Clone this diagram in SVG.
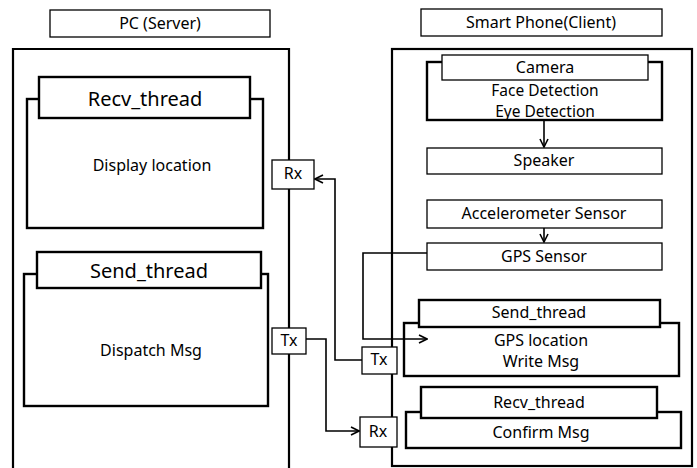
<svg xmlns="http://www.w3.org/2000/svg" width="697" height="468" viewBox="0 0 697 468">
<defs>
<style>
.thin{fill:#fff;stroke:#000;stroke-width:1.3}
.thick{fill:#fff;stroke:#000;stroke-width:2.4}
.frame{fill:none;stroke:#000;stroke-width:2.2}
text{font-family:"Noto Sans","Open Sans",sans-serif;font-size:16px;fill:#000;text-anchor:middle;dominant-baseline:central}
.big{font-size:20px}
.tight{font-size:15.5px}
.conn{fill:none;stroke:#000;stroke-width:1.6}
</style>
<marker id="arr" viewBox="0 0 10 10" refX="9" refY="5" markerWidth="10" markerHeight="10" markerUnits="userSpaceOnUse" orient="auto">
<path d="M1,1 L9,5 L1,9" fill="none" stroke="#000" stroke-width="1.6"/>
</marker>
</defs>
<rect width="697" height="468" fill="#fff"/>

<g id="pc-title"><rect class="thin" x="50" y="10" width="220" height="27"/><text x="160" y="23">PC (Server)</text></g>
<g id="pc"><path class="frame" d="M13,470 V49 H289 V470"/></g>

<g id="pc-recv">
<rect class="thick" x="27" y="99" width="236" height="129"/>
<rect class="thick" x="39" y="77" width="211" height="41"/>
<text class="big" x="145" y="98">Recv_thread</text>
<text x="152" y="165">Display location</text>
</g>
<g id="pc-send">
<rect class="thick" x="24" y="274" width="244" height="132"/>
<rect class="thick" x="37" y="252" width="224" height="36"/>
<text class="big" x="149" y="270">Send_thread</text>
<text x="151" y="350">Dispatch Msg</text>
</g>
<g id="pc-rx"><rect class="thin" x="272" y="160" width="42" height="29"/><text x="293" y="173">Rx</text></g>
<g id="pc-tx"><rect class="thin" x="272" y="328" width="34" height="26"/><text x="289" y="340">Tx</text></g>

<g id="phone-title"><rect class="thin" x="421" y="9" width="241" height="27"/><text x="541" y="22">Smart Phone(Client)</text></g>
<g id="phone"><rect class="frame" x="392" y="49" width="300" height="417"/></g>

<g id="camera">
<rect class="thick" x="427" y="62" width="235" height="58"/>
<rect class="thin" x="442" y="55" width="206" height="25"/>
<text x="545" y="67">Camera</text>
<text class="tight" x="545" y="90">Face Detection</text>
<text class="tight" x="545" y="111">Eye Detection</text>
</g>
<g id="speaker"><rect class="thin" x="427" y="148" width="235" height="26"/><text x="544" y="160">Speaker</text></g>
<g id="accel"><rect class="thin" x="427" y="200" width="235" height="28"/><text x="544" y="213">Accelerometer Sensor</text></g>
<g id="gps"><rect class="thin" x="427" y="243" width="235" height="27"/><text x="544" y="256">GPS Sensor</text></g>

<g id="ph-send">
<rect class="thick" x="404" y="323" width="275" height="53"/>
<rect class="thick" x="419" y="300" width="241" height="27"/>
<text x="539" y="312">Send_thread</text>
<text x="541" y="340">GPS location</text>
<text x="541" y="361">Write Msg</text>
</g>
<g id="ph-recv">
<rect class="thick" x="406" y="412" width="275" height="36"/>
<rect class="thick" x="421" y="387" width="236" height="31"/>
<text x="539" y="402">Recv_thread</text>
<text x="541" y="432">Confirm Msg</text>
</g>
<g id="ph-tx"><rect class="thin" x="362" y="347" width="35" height="27"/><text x="379" y="359">Tx</text></g>
<g id="ph-rx"><rect class="thin" x="360" y="417" width="37" height="30"/><text x="378" y="431">Rx</text></g>

<g id="connectors">
<path class="conn" d="M544,120 V147" marker-end="url(#arr)"/>
<path class="conn" d="M544,228 V242" marker-end="url(#arr)"/>
<path class="conn" d="M427,253 H363 V339 H427" marker-end="url(#arr)"/>
<path class="conn" d="M362,360 H335 V179 H315" marker-end="url(#arr)"/>
<path class="conn" d="M306,339 H326 V431 H359" marker-end="url(#arr)"/>
</g>
</svg>
